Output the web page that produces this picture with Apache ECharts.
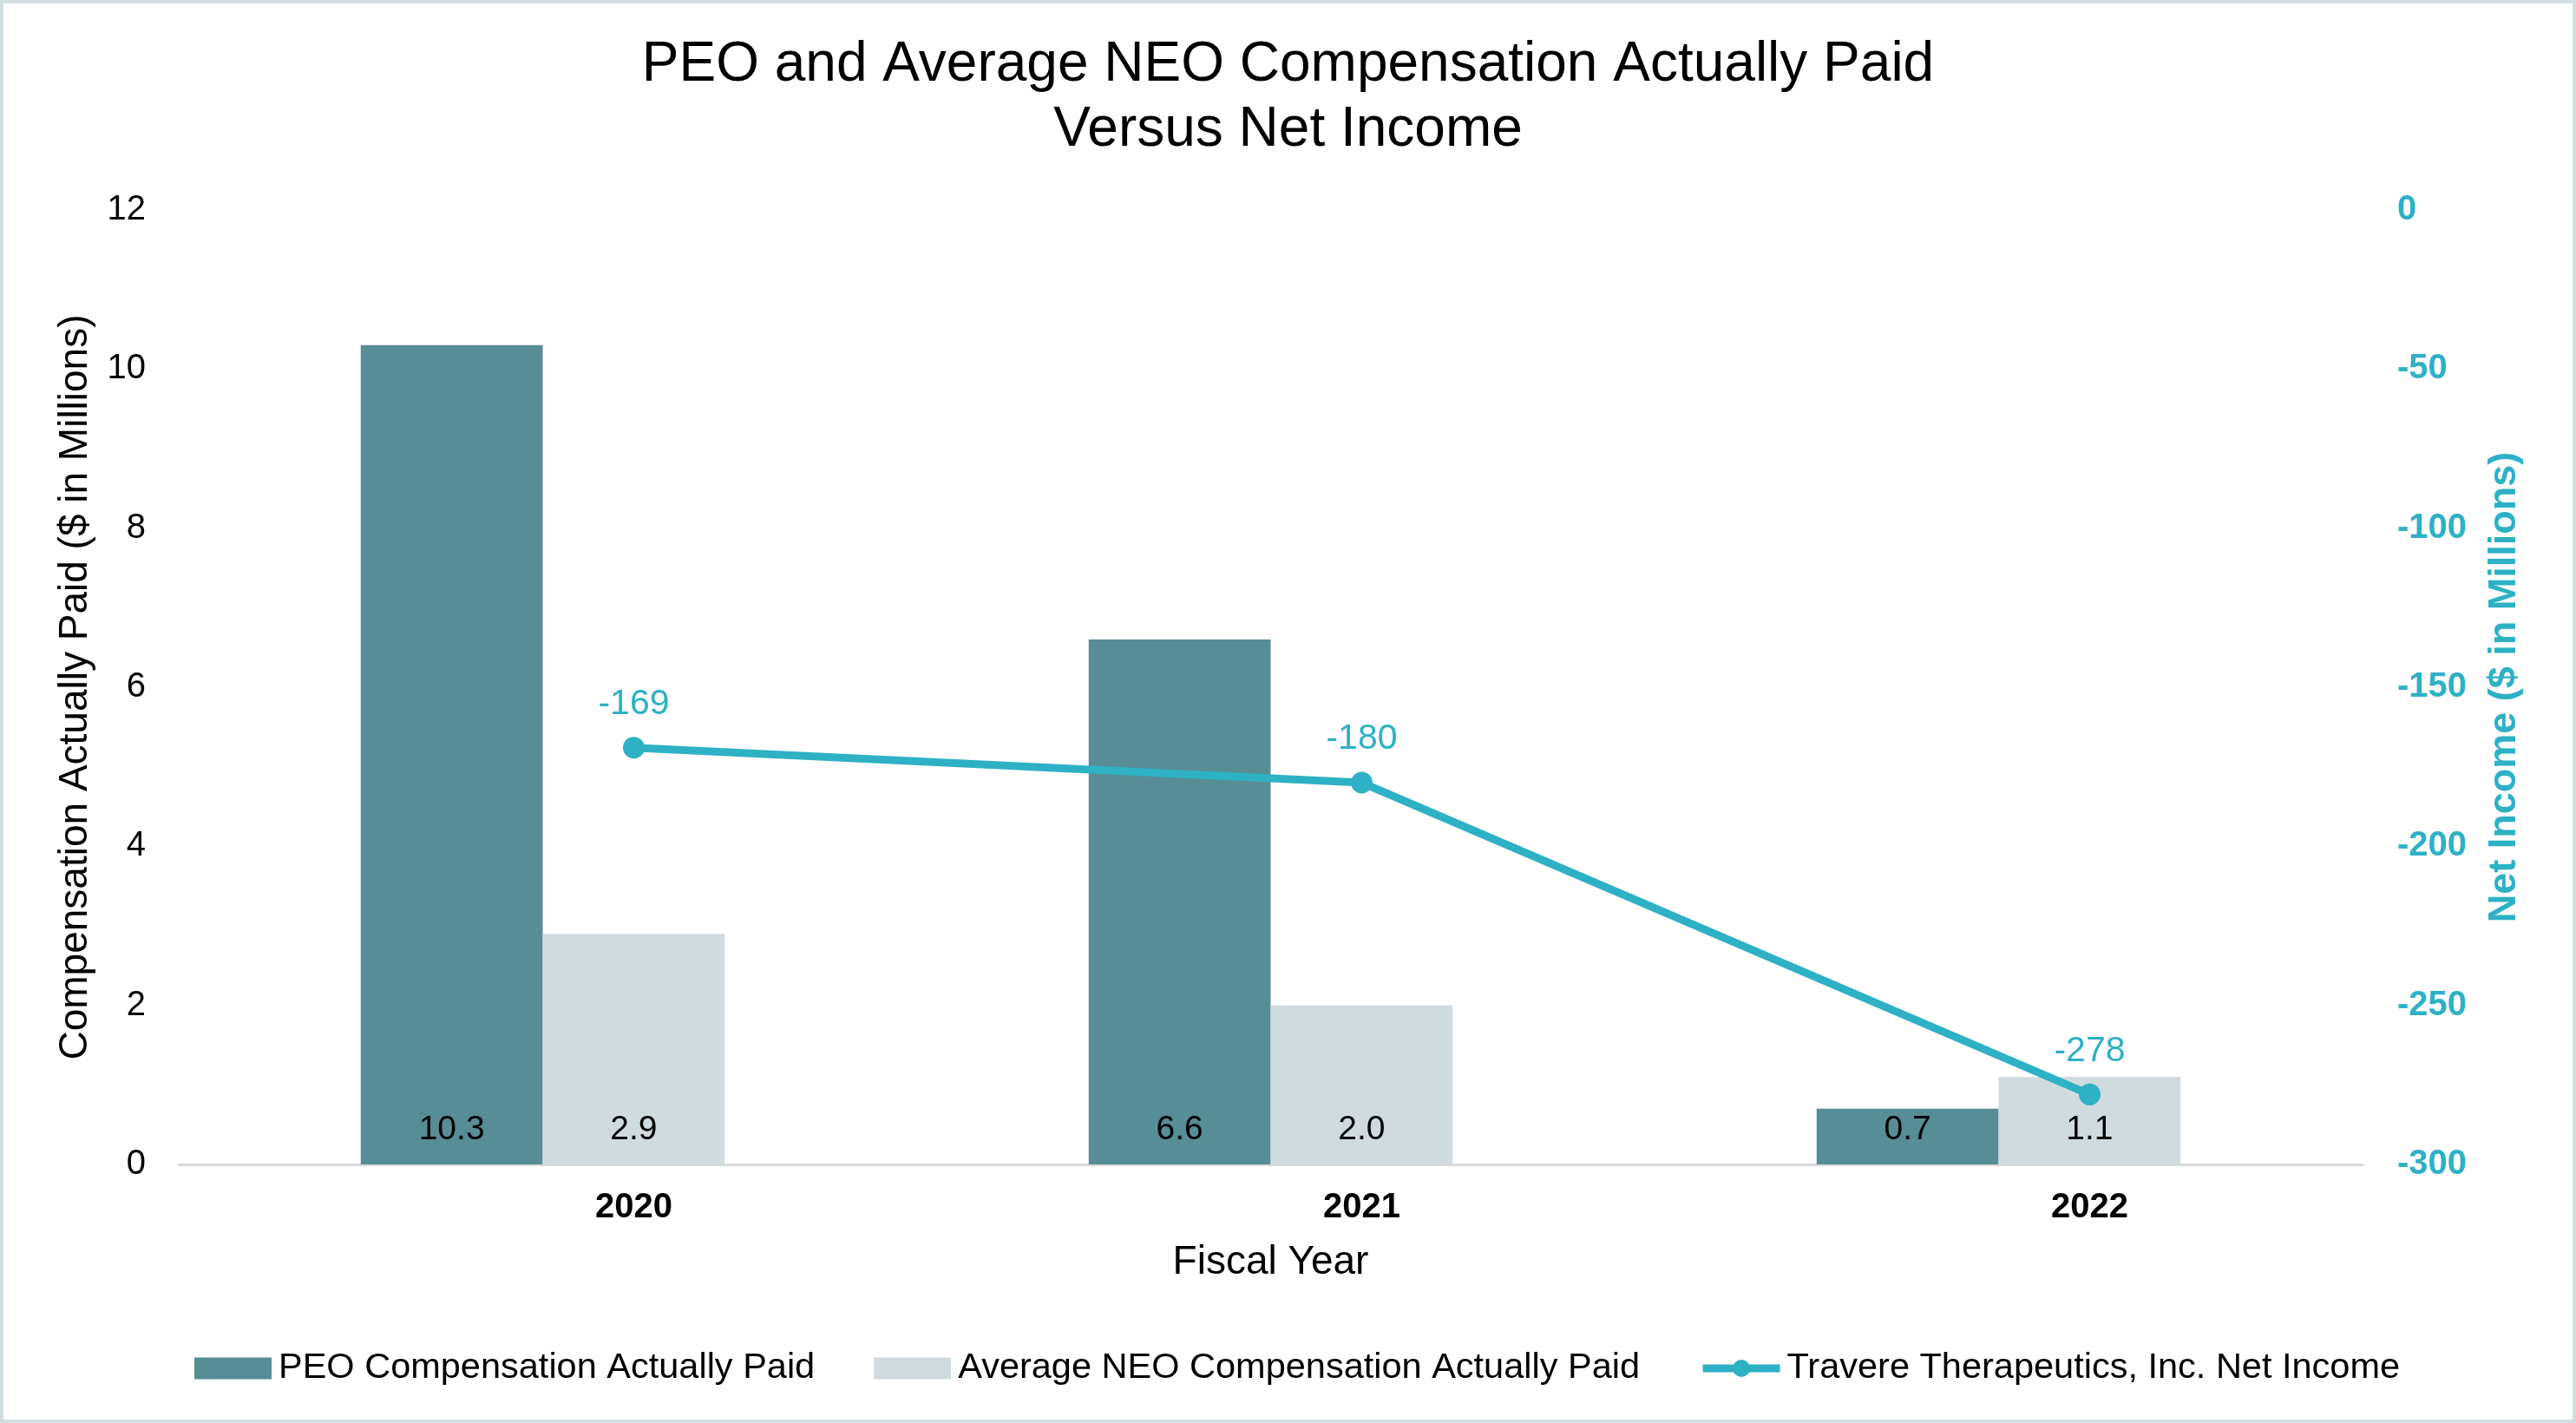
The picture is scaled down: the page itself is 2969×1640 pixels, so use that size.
<!DOCTYPE html>
<html>
<head>
<meta charset="utf-8">
<title>PEO and Average NEO Compensation Actually Paid Versus Net Income</title>
<script src="https://cdn.jsdelivr.net/npm/echarts@6/dist/echarts.min.js"></script>
<style>
  html, body { margin: 0; padding: 0; background: #fff; }
  #chart {
    width: 2969px;
    height: 1640px;
    box-sizing: border-box;
    border: 4px solid #d3dee1;
  }
</style>
</head>
<body>
<div id="chart"></div>
<script>
// data
const years = ["2020", "2021", "2022"]
const peoPaid = [10.3, 6.6, 0.7]
const neoPaid = [2.9, 2.0, 1.1]
const netIncome = [-169, -180, -278]

const FONT = "Liberation Sans, Arial, sans-serif"
const TEAL = "#2eb1c5"
// the source puts year labels and line points half a bar right of the bar pair
const SHIFT = 105

const chart = echarts.init(document.getElementById("chart"))

const barLabel = {
  show: true,
  position: "insideBottom",
  distance: 20,
  fontFamily: FONT,
  fontSize: 39,
  color: "#000",
  formatter: p => p.value.toFixed(1),
}

chart.setOption({
  animation: false,
  backgroundColor: "#fff",
  textStyle: {fontFamily: FONT},
  title: {
    text: "PEO and Average NEO Compensation Actually Paid\nVersus Net Income",
    left: "center",
    top: 29,
    textStyle: {fontFamily: FONT, fontSize: 64, fontWeight: "normal", color: "#000", lineHeight: 75},
  },
  grid: [
    {left: 202, right: 242, top: 238, bottom: 294},
    {left: 202 + SHIFT, right: 242 - SHIFT, top: 238, bottom: 294},
  ],
  legend: {
    left: 215,
    top: 1547,
    itemWidth: 89,
    itemHeight: 25,
    itemGap: 68,
    textStyle: {fontFamily: FONT, fontSize: 41.5, color: "#000", padding: [0, 0, 0, 3]},
    data: [
      {name: "PEO Compensation Actually Paid", icon: "rect"},
      {name: "Average NEO Compensation Actually Paid", icon: "rect"},
      {name: "Travere Therapeutics, Inc. Net Income", lineStyle: {width: 9}},
    ],
  },
  xAxis: [
    {
      type: "category",
      data: years,
      name: "Fiscal Year",
      nameLocation: "middle",
      nameGap: 90,
      nameTextStyle: {fontFamily: FONT, fontSize: 46, color: "#000"},
      axisLine: {lineStyle: {color: "#d9d9d9", width: 3}},
      axisTick: {show: false},
      axisLabel: {
        fontFamily: FONT,
        fontSize: 40,
        fontWeight: "bold",
        color: "#000",
        margin: 30,
        padding: [0, 0, 0, SHIFT * 2],
      },
    },
    {
      type: "category",
      gridIndex: 1,
      data: years,
      show: false,
    },
  ],
  yAxis: [
    {
      type: "value",
      min: 0,
      max: 12,
      interval: 2,
      name: "Compensation Actually Paid ($ in Millions)",
      nameLocation: "middle",
      nameGap: 96,
      nameTextStyle: {fontFamily: FONT, fontSize: 46, color: "#000"},
      axisLine: {show: false},
      axisTick: {show: false},
      splitLine: {show: false},
      axisLabel: {fontFamily: FONT, fontSize: 40, color: "#000", margin: 38},
    },
    {
      type: "value",
      min: -300,
      max: 0,
      interval: 50,
      position: "right",
      name: "Net Income ($ in Millions)",
      nameLocation: "middle",
      nameGap: 141,
      nameTextStyle: {fontFamily: FONT, fontSize: 45, fontWeight: "bold", color: TEAL},
      axisLine: {show: false},
      axisTick: {show: false},
      splitLine: {show: false},
      axisLabel: {fontFamily: FONT, fontSize: 40, fontWeight: "bold", color: TEAL, margin: 40},
    },
    {
      type: "value",
      gridIndex: 1,
      min: -300,
      max: 0,
      show: false,
    },
  ],
  series: [
    {
      name: "PEO Compensation Actually Paid",
      type: "bar",
      data: peoPaid,
      barWidth: "25%",
      barGap: "0%",
      itemStyle: {color: "#578d95"},
      label: barLabel,
    },
    {
      name: "Average NEO Compensation Actually Paid",
      type: "bar",
      data: neoPaid,
      barWidth: "25%",
      barGap: "0%",
      itemStyle: {color: "#cfdbdf"},
      label: barLabel,
    },
    {
      name: "Travere Therapeutics, Inc. Net Income",
      type: "line",
      xAxisIndex: 1,
      yAxisIndex: 2,
      data: netIncome,
      symbol: "circle",
      symbolSize: 25,
      lineStyle: {color: TEAL, width: 9},
      itemStyle: {color: TEAL},
      label: {
        show: true,
        position: "top",
        distance: 17,
        fontFamily: FONT,
        fontSize: 41,
        color: TEAL,
      },
    },
  ],
})
</script>
</body>
</html>
